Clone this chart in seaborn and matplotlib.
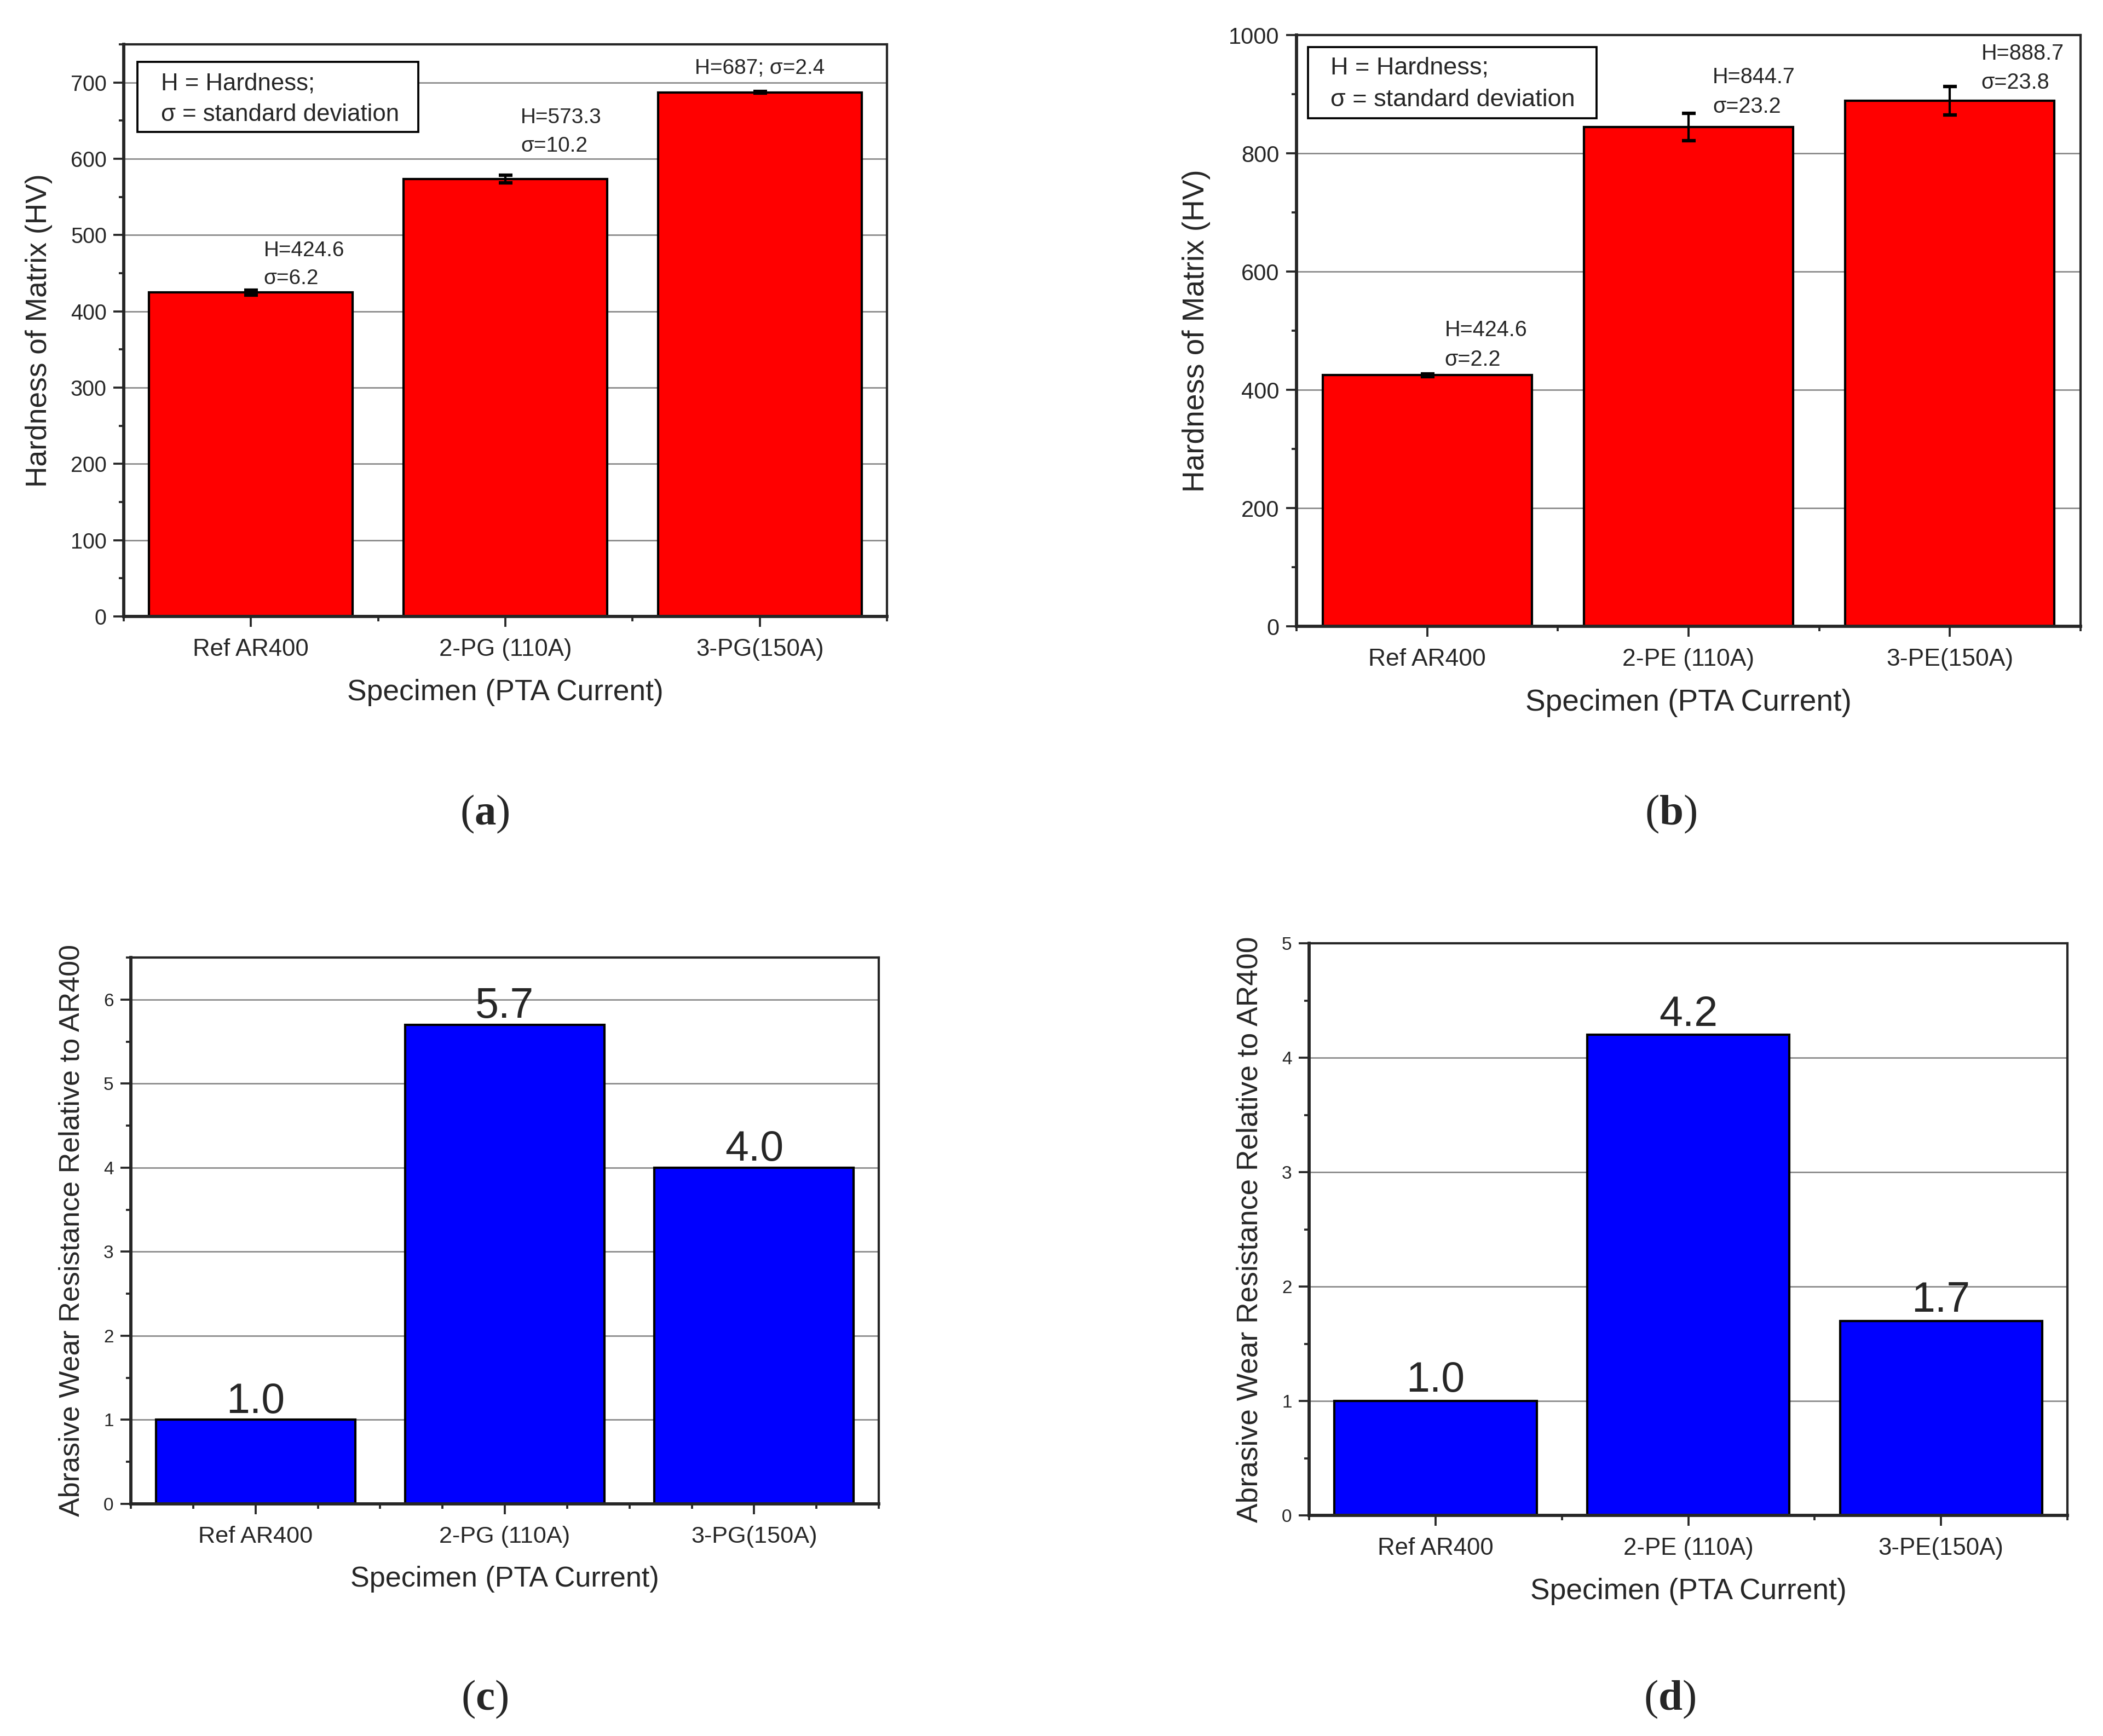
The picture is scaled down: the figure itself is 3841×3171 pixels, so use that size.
import matplotlib
matplotlib.use("Agg")
import matplotlib.pyplot as plt
import matplotlib.patches as mpatches
from matplotlib.ticker import MultipleLocator, FixedLocator
import seaborn as sns
import pandas as pd

# data
specimens_pg = ["Ref AR400", "2-PG (110A)", "3-PG(150A)"]
specimens_pe = ["Ref AR400", "2-PE (110A)", "3-PE(150A)"]
hardness_pg = [424.6, 573.3, 687.0]
sigma_pg = [6.2, 10.2, 2.4]
errbar_pg = [3.1, 5.0, 1.2]      # error bar half-lengths as drawn in (a)
hardness_pe = [424.6, 844.7, 888.7]
sigma_pe = [2.2, 23.2, 23.8]
wear_pg = [1.0, 5.7, 4.0]
wear_pe = [1.0, 4.2, 1.7]

sns.set_style("ticks")
plt.rcParams["font.family"] = ["Liberation Sans", "DejaVu Sans"]
plt.rcParams["mathtext.fontset"] = "custom"
plt.rcParams["mathtext.rm"] = "Liberation Serif"
plt.rcParams["mathtext.bf"] = "Liberation Serif:bold"

W, H = 3841, 3171
fig = plt.figure(figsize=(W / 300, H / 300), dpi=300)


def px_axes(l, t, r, b):
    return fig.add_axes([l / W, 1 - b / H, (r - l) / W, (b - t) / H])


ax_a = px_axes(226, 81, 1620, 1126)
ax_b = px_axes(2368, 64, 3800, 1144)
ax_c = px_axes(239, 1749, 1605, 2747)
ax_d = px_axes(2391, 1723, 3776, 2768)


def bars(ax, cats, vals, color):
    df = pd.DataFrame({"cat": cats, "val": vals})
    sns.barplot(data=df, x="cat", y="val", ax=ax, color=color, saturation=1,
                width=0.8, edgecolor="black", linewidth=1.0, zorder=2)


def style(ax, ymax, major, minor, xminor, fs_ytick, fs_xtick, fs_label, ylabel):
    ax.set_xlim(-0.5, 2.5)
    ax.set_ylim(0, ymax)
    ax.yaxis.set_major_locator(MultipleLocator(major))
    ax.yaxis.set_minor_locator(MultipleLocator(minor))
    ax.xaxis.set_minor_locator(FixedLocator(xminor))
    ax.tick_params(which="major", direction="out", length=4.5, width=0.9)
    ax.tick_params(which="minor", direction="out", length=2.2, width=0.9)
    ax.tick_params(axis="y", which="major", labelsize=fs_ytick, pad=3)
    ax.tick_params(axis="x", which="major", labelsize=fs_xtick, pad=5)
    ax.yaxis.grid(True, which="major", color="#808080", lw=0.6)
    ax.set_axisbelow(True)
    for s in ["left", "bottom"]:
        ax.spines[s].set_linewidth(1.4)
    for s in ["top", "right"]:
        ax.spines[s].set_linewidth(1.0)
    ax.set_xlabel("Specimen (PTA Current)", fontsize=fs_label, labelpad=8)
    ax.set_ylabel(ylabel, fontsize=fs_label, labelpad=8)


def legend_box(ax, x0, y0, x1, y1, tx, ty1, ty2, fs):
    ax.add_patch(mpatches.Rectangle((x0, y0), x1 - x0, y1 - y0, transform=ax.transAxes,
                                    fc="white", ec="black", lw=0.9, zorder=5))
    ax.text(tx, ty1, "H = Hardness;", transform=ax.transAxes, fontsize=fs, zorder=6, va="baseline")
    ax.text(tx, ty2, "\u03c3 = standard deviation", transform=ax.transAxes, fontsize=fs, zorder=6, va="baseline")


# (a) hardness, PG
bars(ax_a, specimens_pg, hardness_pg, "#ff0000")
ax_a.errorbar(range(3), hardness_pg, yerr=errbar_pg, fmt="none", ecolor="black",
              elinewidth=1.0, capsize=3, capthick=1.5, zorder=4)
style(ax_a, 750, 100, 50, [-0.5, 0.5, 1.5, 2.5], 9.5, 10.5, 12.8, "Hardness of Matrix (HV)")
legend_box(ax_a, 0.018, 0.847, 0.386, 0.969, 0.049, 0.920, 0.866, 10.5)
ax_a.text(0.05, hardness_pg[0] + 48, f"H={hardness_pg[0]}", fontsize=9.3)
ax_a.text(0.05, hardness_pg[0] + 11, f"\u03c3={sigma_pg[0]}", fontsize=9.3)
ax_a.text(1.06, hardness_pg[1] + 73, f"H={hardness_pg[1]}", fontsize=9.3)
ax_a.text(1.06, hardness_pg[1] + 36, f"\u03c3={sigma_pg[1]}", fontsize=9.3)
ax_a.text(2.0, hardness_pg[2] + 24, f"H={hardness_pg[2]:g}; \u03c3={sigma_pg[2]}", fontsize=9.3, ha="center")

# (b) hardness, PE
bars(ax_b, specimens_pe, hardness_pe, "#ff0000")
ax_b.errorbar(range(3), hardness_pe, yerr=sigma_pe, fmt="none", ecolor="black",
              elinewidth=1.0, capsize=3, capthick=1.5, zorder=4)
style(ax_b, 1000, 200, 100, [-0.5, 0.5, 1.5, 2.5], 10, 10.7, 13.2, "Hardness of Matrix (HV)")
legend_box(ax_b, 0.015, 0.859, 0.383, 0.980, 0.043, 0.934, 0.880, 10.8)
for i, (dx, dh, ds) in enumerate([(0.067, 66, 16), (0.092, 74, 24), (0.12, 70, 21)]):
    ax_b.text(i + dx, hardness_pe[i] + dh, f"H={hardness_pe[i]}", fontsize=9.5)
    ax_b.text(i + dx, hardness_pe[i] + ds, f"\u03c3={sigma_pe[i]}", fontsize=9.5)

# (c) wear resistance, PG
bars(ax_c, specimens_pg, wear_pg, "#0000ff")
style(ax_c, 6.5, 1, 0.5, [-0.5, -0.25, 0.25, 0.5, 0.75, 1.25, 1.5, 1.75, 2.25, 2.5],
      8, 10.4, 12.5, "Abrasive Wear Resistance Relative to AR400")
for i, v in enumerate(wear_pg):
    ax_c.annotate(f"{v:.1f}", (i, v), xytext=(0, 3), textcoords="offset points",
                  ha="center", va="baseline", fontsize=18.5)

# (d) wear resistance, PE
bars(ax_d, specimens_pe, wear_pe, "#0000ff")
style(ax_d, 5, 1, 0.5, [-0.5, 0.5, 1.5, 2.5], 8, 10.5, 12.8,
      "Abrasive Wear Resistance Relative to AR400")
for i, v in enumerate(wear_pe):
    ax_d.annotate(f"{v:.1f}", (i, v), xytext=(0, 4), textcoords="offset points",
                  ha="center", va="baseline", fontsize=18.5)

# panel letters
for lab, x, y in [("a", 885, 1487), ("b", 3052, 1487), ("c", 885, 3104), ("d", 3050, 3104)]:
    fig.text(x / W, 1 - y / H, r"$\mathrm{(}\mathbf{" + lab + r"}\mathrm{)}$",
             fontsize=19, ha="center", va="center")

fig.savefig("out.png", dpi=300)
